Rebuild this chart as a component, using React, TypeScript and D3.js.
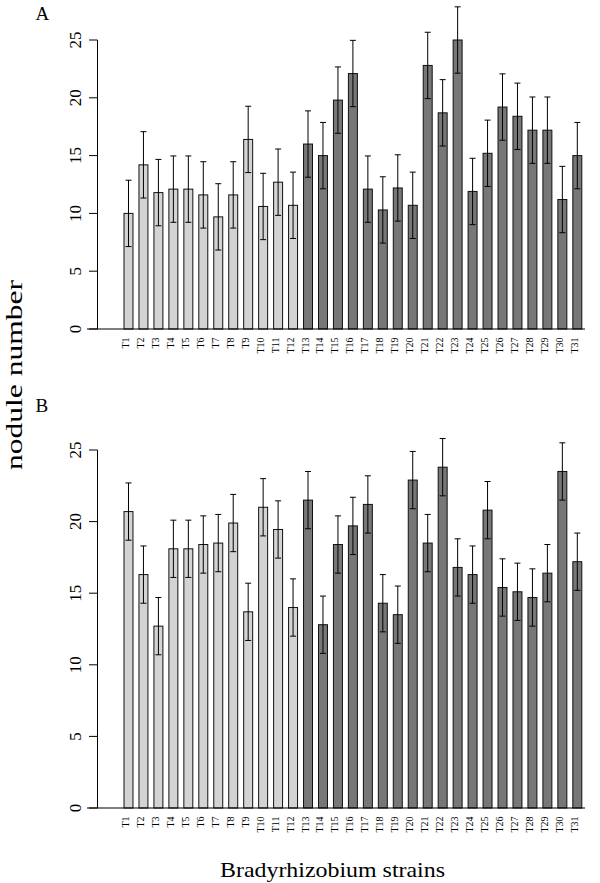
import React from "react";
import * as d3 from "d3";

const strains = ["T1","T2","T3","T4","T5","T6","T7","T8","T9","T10","T11","T12","T13","T14","T15","T16","T17","T18","T19","T20","T21","T22","T23","T24","T25","T26","T27","T28","T29","T30","T31"];
// group: 0 = light bars (T1-T12), 1 = dark bars (T13-T31)
const groups = [0,0,0,0,0,0,0,0,0,0,0,0,1,1,1,1,1,1,1,1,1,1,1,1,1,1,1,1,1,1,1];

const meanA = [10.0,14.2,11.8,12.1,12.1,11.6,9.7,11.6,16.4,10.6,12.7,10.7,16.0,15.0,19.8,22.1,12.1,10.3,12.2,10.7,22.8,18.7,25.0,11.9,15.2,19.2,18.4,17.2,17.2,11.2,15.0];
const errA = [2.87,2.87,2.87,2.87,2.87,2.87,2.87,2.87,2.87,2.87,2.87,2.87,2.87,2.87,2.87,2.87,2.87,2.87,2.87,2.87,2.87,2.87,2.87,2.87,2.87,2.87,2.87,2.87,2.87,2.87,2.87];

const meanB = [20.7,16.3,12.7,18.1,18.1,18.4,18.5,19.9,13.7,21.0,19.45,14.0,21.5,12.8,18.4,19.7,21.2,14.3,13.5,22.9,18.5,23.8,16.8,16.3,20.8,15.4,15.1,14.7,16.4,23.5,17.2];
const errB = [2.0,2.0,2.0,2.0,2.0,2.0,2.0,2.0,2.0,2.0,2.0,2.0,2.0,2.0,2.0,2.0,2.0,2.0,2.0,2.0,2.0,2.0,2.0,2.0,2.0,2.0,2.0,2.0,2.0,2.0,2.0];

const yTicks = [0, 5, 10, 15, 20, 25];
const panelLabels = ["A", "B"];

const FONT = "Liberation Serif, Times New Roman, Times, serif";
const fills = ["#d3d3d3", "#777777"];

const x = d3.scaleBand<string>().domain(strains).range([124, 581.8]).paddingInner(0.4).paddingOuter(0);

function Panel({ means, errs, top, bottom, label, labelY }: { means: number[]; errs: number[]; top: number; bottom: number; label: string; labelY: number }) {
  const y = d3.scaleLinear().domain([0, 25]).range([bottom, top]);
  const bw = x.bandwidth();
  return (
    <g>
      <text x={35.5} y={labelY} fontSize={19}>{label}</text>
      {/* y axis */}
      <line x1={97.5} x2={97.5} y1={y(0)} y2={y(25)} stroke="#000" strokeWidth={1} />
      {yTicks.map((t) => (
        <g key={t}>
          <line x1={89} x2={97.5} y1={y(t)} y2={y(t)} stroke="#000" strokeWidth={1} />
          <text transform={`translate(80.5,${y(t)}) rotate(-90)`} textAnchor="middle" fontSize={17}>{t}</text>
        </g>
      ))}
      {/* bars */}
      {strains.map((s, i) => {
        const x0 = x(s)!;
        const cx = x0 + bw / 2;
        return (
          <g key={s}>
            <rect x={x0} y={y(means[i])} width={bw} height={y(0) - y(means[i])} fill={fills[groups[i]]} stroke="#111" strokeWidth={1} />
            <line x1={cx} x2={cx} y1={y(means[i] + errs[i])} y2={y(means[i] - errs[i])} stroke="#000" strokeWidth={1} />
            <line x1={cx - 3} x2={cx + 3} y1={y(means[i] + errs[i])} y2={y(means[i] + errs[i])} stroke="#000" strokeWidth={1} />
            <line x1={cx - 3} x2={cx + 3} y1={y(means[i] - errs[i])} y2={y(means[i] - errs[i])} stroke="#000" strokeWidth={1} />
            <text transform={`translate(${cx + 0.5},${y(0) + 8.5}) rotate(-90)`} textAnchor="end" fontSize={10}>{s}</text>
          </g>
        );
      })}
      {/* baseline */}
      <line x1={87} x2={585} y1={y(0)} y2={y(0)} stroke="#000" strokeWidth={1.2} />
    </g>
  );
}

export default function App() {
  return (
    <svg width={600} height={883} style={{ position: "absolute", left: 0, top: 0, background: "#fff", fontFamily: FONT }}>
      <rect width={600} height={883} fill="#fff" />
      <Panel means={meanA} errs={errA} top={40} bottom={329} label={panelLabels[0]} labelY={20} />
      <Panel means={meanB} errs={errB} top={450} bottom={808} label={panelLabels[1]} labelY={412} />
      <text transform="translate(21.5,375) rotate(-90)" textAnchor="middle" fontSize={24} textLength={190} lengthAdjust="spacingAndGlyphs">nodule number</text>
      <text x={332.5} y={877} textAnchor="middle" fontSize={21} textLength={225} lengthAdjust="spacingAndGlyphs">Bradyrhizobium strains</text>
    </svg>
  );
}
